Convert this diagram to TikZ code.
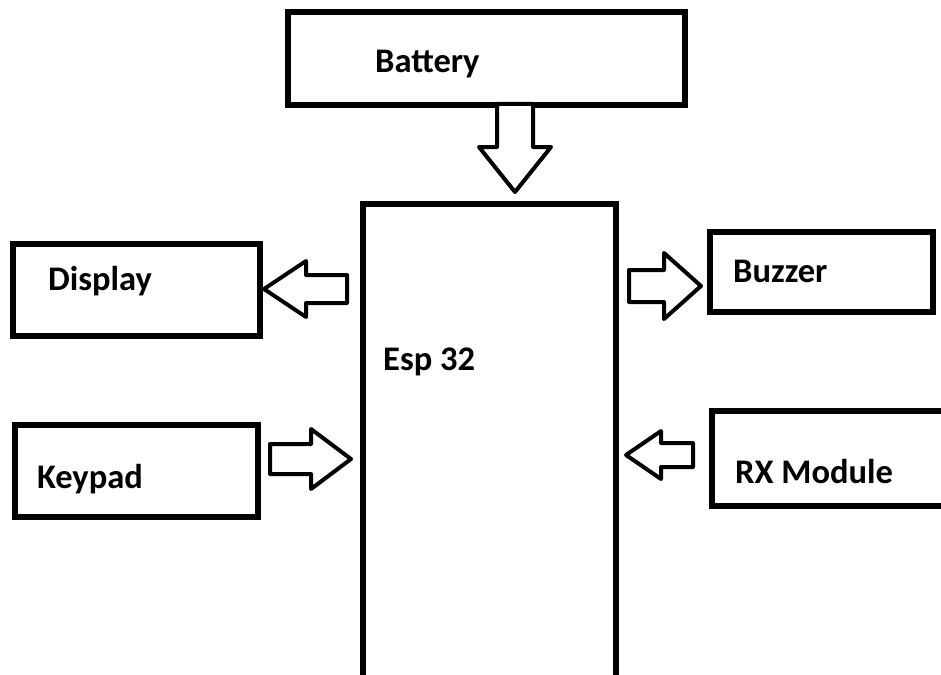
\documentclass[tikz,border=0pt]{standalone}
\usepackage{fontspec}
\setmainfont{Carlito}
\usetikzlibrary{calc,positioning}

\tikzset{fat arrow/.style args={#1/#2/#3}{line width=4pt, line join=round, fill=white, to path={
  ($(\tikztostart)!#1!90:(\tikztotarget)$)
  -- ($($(\tikztotarget)!#3!(\tikztostart)$)!#1!90:(\tikztotarget)$)
  -- ($($(\tikztotarget)!#3!(\tikztostart)$)!#2!90:(\tikztotarget)$)
  -- (\tikztotarget)
  -- ($($(\tikztotarget)!#3!(\tikztostart)$)!#2!-90:(\tikztotarget)$)
  -- ($($(\tikztotarget)!#3!(\tikztostart)$)!#1!-90:(\tikztotarget)$)
  -- ($(\tikztostart)!#1!-90:(\tikztotarget)$)
  -- cycle}}}

\begin{document}
\begin{tikzpicture}[x=1pt, y=-1pt]
    \tikzstyle{unit} = [rectangle, draw, line width=5.5pt, inner sep=0pt, outer sep=0pt]
    \tikzstyle{lbl} = [anchor=base west, inner sep=0pt, font=\fontsize{34.5}{41}\selectfont\bfseries]

    \clip (0,0) rectangle (941,674);
    \fill[white] (0,0) rectangle (941,674);

    % blocks
    \node [unit, minimum width=397pt, minimum height=93pt] (battery) at (486.5,58.5) {};
    \node [unit, minimum width=253pt, minimum height=496pt] (esp) at (489.5,452) {};
    \node [unit, minimum width=247pt, minimum height=92pt] (display) at (136.5,290) {};
    \node [unit, minimum width=243pt, minimum height=92pt] (keypad) at (136.5,471) {};
    \node [unit, minimum width=223pt, minimum height=80pt] (buzzer) at (821.5,272) {};
    \node [unit, minimum width=248pt, minimum height=95pt] (rx) at (836,458.5) {};

    % texts
    \node [lbl] (batterytxt) at (375,73) {Battery};
    \node [lbl] (esptxt) at (383,370) {Esp 32};
    \node [lbl] (displaytxt) at (48,290) {Display};
    \node [lbl] (keypadtxt) at (37,488) {Keypad};
    \node [lbl] (buzzertxt) at (733,282) {Buzzer};
    \node [lbl] (rxtxt) at (735,483) {RX Module};

    % arrow ends
    \coordinate (batTail) at (515,104);
    \coordinate (batTip) at (515,192);
    \coordinate (dispTail) at (347,289);
    \coordinate (dispTip) at (264,289);
    \coordinate (keyTail) at (270,459);
    \coordinate (keyTip) at (351,459);
    \coordinate (buzTail) at (629,286);
    \coordinate (buzTip) at (701,286);
    \coordinate (rxTail) at (693,455);
    \coordinate (rxTip) at (626,455);

    \draw [fat arrow=18pt/36pt/45pt] (batTail) to (batTip);
    \draw [fat arrow=14pt/28pt/42pt] (dispTail) to (dispTip);
    \draw [fat arrow=15pt/30pt/40pt] (keyTail) to (keyTip);
    \draw [fat arrow=16pt/33pt/37pt] (buzTail) to (buzTip);
    \draw [fat arrow=12pt/24pt/35pt] (rxTail) to (rxTip);
\end{tikzpicture}
\end{document}
